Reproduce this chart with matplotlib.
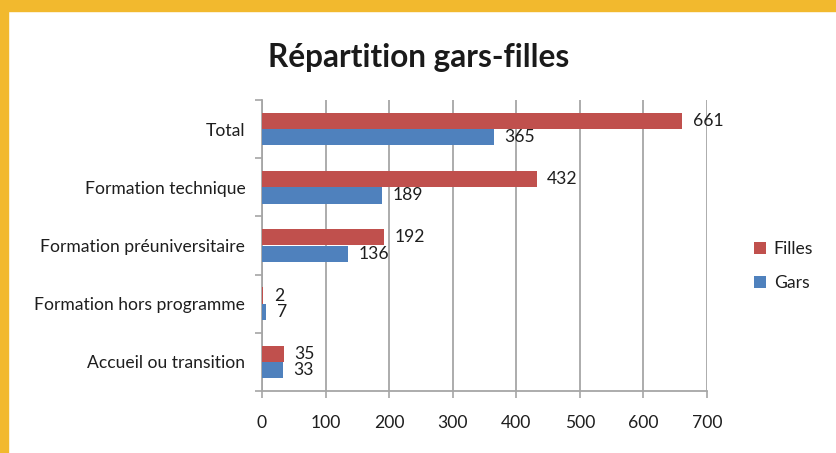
import matplotlib
matplotlib.use("Agg")
import matplotlib.pyplot as plt
from matplotlib.patches import Rectangle
import numpy as np

categories = ["Accueil ou transition", "Formation hors programme",
              "Formation préuniversitaire", "Formation technique", "Total"]
filles = [35, 2, 192, 432, 661]
gars = [33, 7, 136, 189, 365]
series_names = ["Filles", "Gars"]
xticks = [0, 100, 200, 300, 400, 500, 600, 700]
title = "Répartition gars-filles"

RED = "#C0504D"
BLUE = "#4F81BD"
GRID = "#A6A6A6"
TXT = "#1e1e1e"
FONT = ["Lato", "DejaVu Sans"]
FS = 12.6

plt.rcParams["font.family"] = FONT

W, H = 837, 453
fig = plt.figure(figsize=(W / 100, H / 100), dpi=100)
fig.patch.set_facecolor("white")

# yellow frame
fig.add_artist(Rectangle((0, 1 - 11 / H), 1, 11 / H, transform=fig.transFigure,
                         color="#F2B92E", zorder=0))
fig.add_artist(Rectangle((0, 0), 8 / W, 1, transform=fig.transFigure,
                         color="#F2B92E", zorder=0))

ax = fig.add_axes([262 / W, 1 - 391 / H, (707 - 262) / W, (391 - 100) / H])
ax.set_facecolor("none")

y = np.arange(len(categories))
h = 0.28
ax.barh(y + h / 2, filles, height=h, color=RED, label=series_names[0], zorder=3)
ax.barh(y - h / 2, gars, height=h, color=BLUE, label=series_names[1], zorder=3)

for yi, v in zip(y, filles):
    ax.annotate(str(v), (v, yi + h / 2), xytext=(7.5, 0), textcoords="offset points",
                va="center", ha="left", fontsize=FS, color=TXT)
for yi, v in zip(y, gars):
    ax.annotate(str(v), (v, yi - h / 2), xytext=(7.5, 0), textcoords="offset points",
                va="center", ha="left", fontsize=FS, color=TXT)

ax.set_xlim(0, 700)
ax.set_ylim(-0.5, len(categories) - 0.5)
ax.set_xticks(xticks)
ax.set_xticklabels([str(t) for t in xticks], fontsize=FS, color=TXT)
ax.set_yticks(np.arange(len(categories) + 1) - 0.5, minor=False)
ax.set_yticklabels([])
ax.set_yticks(y, minor=True)
ax.set_yticklabels(categories, minor=True, fontsize=FS, color=TXT)
ax.tick_params(axis="y", which="minor", length=0, pad=12)
ax.tick_params(axis="y", which="major", length=5, width=1.2, color=GRID)
ax.tick_params(axis="x", length=5, width=1.2, color=GRID, pad=12)

ax.grid(axis="x", color=GRID, linewidth=1.3, zorder=0)
for s in ["top", "right"]:
    ax.spines[s].set_visible(False)
for s in ["left", "bottom"]:
    ax.spines[s].set_color(GRID)
    ax.spines[s].set_linewidth(1.3)

fig.text(419 / W, 1 - 57 / H, title, ha="center", va="center",
         fontsize=22.7, fontweight="bold", color="#1a1a1a")

leg = fig.legend(loc="center left", bbox_to_anchor=(738 / W, 1 - 266 / H),
                 frameon=False, fontsize=FS, handlelength=0.7, handleheight=0.7,
                 labelspacing=1.0, handletextpad=0.45)
for t in leg.get_texts():
    t.set_color(TXT)

fig.savefig("out.png", dpi=100)
